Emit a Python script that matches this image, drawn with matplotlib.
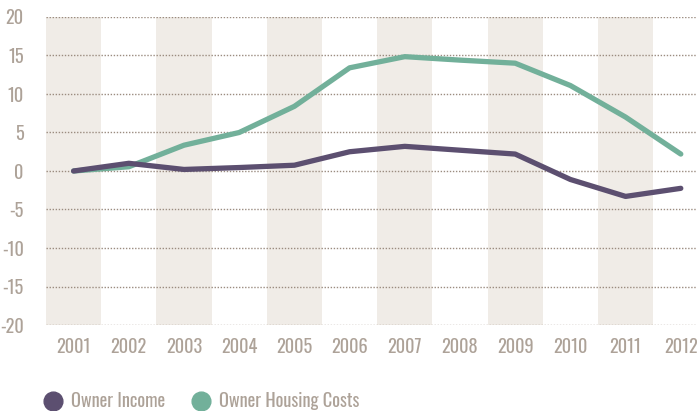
import matplotlib
matplotlib.use("Agg")
import matplotlib.pyplot as plt
from matplotlib.lines import Line2D

years = [2001, 2002, 2003, 2004, 2005, 2006, 2007, 2008, 2009, 2010, 2011, 2012]
owner_income = [0.0, 1.0, 0.2, 0.45, 0.75, 2.5, 3.2, 2.7, 2.2, -1.1, -3.3, -2.25]
owner_housing_costs = [0.0, 0.55, 3.35, 5.0, 8.4, 13.4, 14.85, 14.4, 14.0, 11.1, 7.0, 2.2]
y_ticks = [-20, -15, -10, -5, 0, 5, 10, 15, 20]

PURPLE = "#5c4f70"
GREEN = "#72b09a"
BAND = "#f0ece7"
TEXT = "#ada298"
GRID = "#9b8c80"

plt.rcParams["font.family"] = ["Oswald", "DejaVu Sans"]
plt.rcParams["font.weight"] = "light"

fig = plt.figure(figsize=(6.97, 4.11), dpi=100)
ax = fig.add_axes([46 / 697, 1 - 325 / 411, 1 - 46 / 697, (325 - 17) / 411])

# alternating shaded columns behind odd years
for i, yr in enumerate(years):
    if i % 2 == 0:
        ax.axvspan(yr - 0.5, yr + 0.5, color=BAND, lw=0, zorder=0)

for yv in y_ticks:
    ax.axhline(yv, color=GRID, lw=1.0, ls=(0, (1, 1.2)), zorder=1)

ax.plot(years, owner_housing_costs, color=GREEN, lw=3.8, solid_capstyle="round",
        solid_joinstyle="round", zorder=3)
ax.plot(years, owner_income, color=PURPLE, lw=3.8, solid_capstyle="round",
        solid_joinstyle="round", zorder=4)

ax.set_xlim(2000.5, 2000.5 + 651 / 55.2)
ax.set_ylim(-20, 20)
ax.set_xticks(years)
ax.set_xticklabels([str(y) for y in years])
ax.set_yticks(y_ticks)
ax.set_yticklabels([str(v) for v in y_ticks])
ax.tick_params(axis="both", length=0, labelsize=13.2, labelcolor=TEXT)
ax.tick_params(axis="x", pad=9)
ax.tick_params(axis="y", pad=16)
for s in ax.spines.values():
    s.set_visible(False)

handles = [
    Line2D([], [], ls="none", marker="o", markersize=13.5, color=PURPLE),
    Line2D([], [], ls="none", marker="o", markersize=13.5, color=GREEN),
]
fig.legend(handles, ["Owner Income", "Owner Housing Costs"], loc="center left",
           bbox_to_anchor=(44 / 697, 1 - 401 / 411), ncol=2, frameon=False,
           prop={"family": ["Oswald", "DejaVu Sans"], "weight": "light", "size": 13.2},
           labelcolor=TEXT, handletextpad=0.45, columnspacing=1.5,
           handlelength=1.0, borderpad=0, borderaxespad=0)

fig.savefig("out.png", dpi=100)
